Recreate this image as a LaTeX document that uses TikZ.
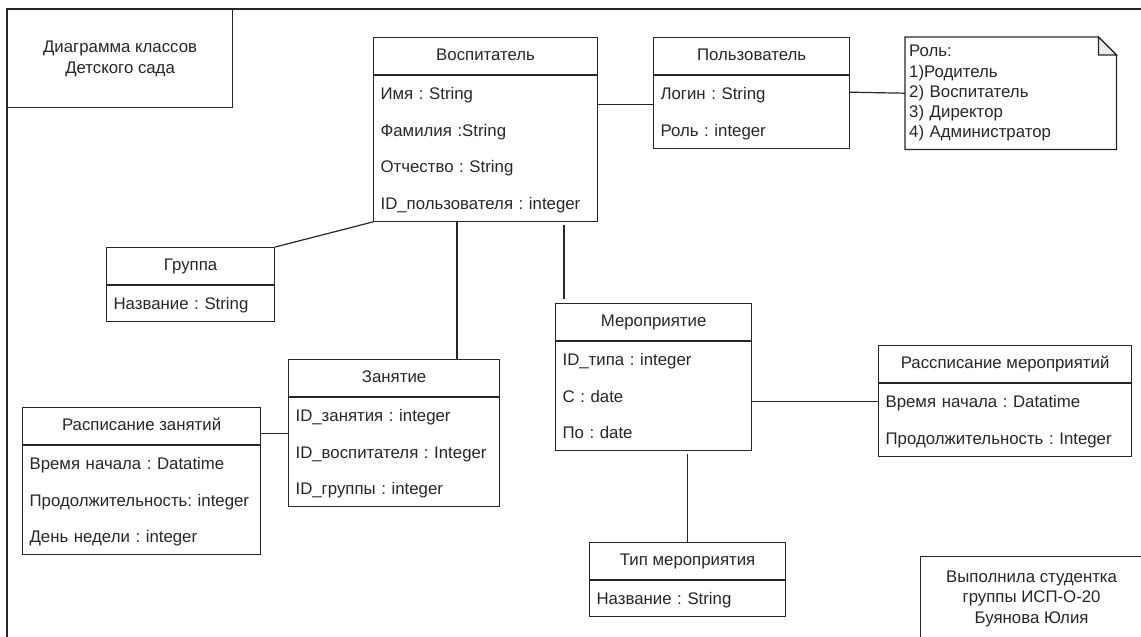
\documentclass[tikz,border=0pt]{standalone}
\usepackage{fontspec}
\setmainfont{Liberation Sans}
\frenchspacing
\hyphenpenalty=10000
\exhyphenpenalty=10000
\newcommand{\attrstrut}{\rule[-12pt]{0pt}{36.5pt}}

\begin{document}
\begin{tikzpicture}[x=1pt, y=-1pt,
    every node/.style={text=black!85},
    umlline/.style={draw=black!85, line width=1.2pt},
    classhead/.style={umlline, anchor=north west, inner sep=0pt, minimum height=36.5pt,
        text height=12pt, text depth=3.5pt, font=\fontsize{16.8pt}{20pt}\selectfont},
    classbody/.style={umlline, anchor=north west, inner xsep=7pt, inner ysep=0pt, align=left,
        font=\fontsize{16.8pt}{36.5pt}\selectfont},
    textbox/.style={umlline, anchor=north west, inner sep=0pt, align=center,
        font=\fontsize{16.8pt}{21pt}\selectfont}]
    \useasboundingbox (0,0) rectangle (1141,637);
    % frame of the sheet
    \draw[umlline] (1150,9) -- (7,9) -- (7,645);
    \node[textbox, minimum width=225pt, minimum height=98pt] (title) at (7,9) {Диаграмма классов\\Детского сада};
    \node[textbox, minimum width=222pt, minimum height=84pt, font=\fontsize{16.8pt}{20.5pt}\selectfont] (author) at (920,556) {Выполнила студентка\\группы ИСП-О-20\\Буянова Юлия};

    % classes
    \node[classhead, minimum width=224pt] (vosp) at (373,37) {Воспитатель};
    \node[classbody, text width=210pt] (vospattr) at (vosp.south west) {\attrstrut Имя : String\\\attrstrut Фамилия :String\\\attrstrut Отчество : String\\\attrstrut ID\_пользователя : integer};
    \node[classhead, minimum width=196pt] (polz) at (653,37) {Пользователь};
    \node[classbody, text width=182pt] (polzattr) at (polz.south west) {\attrstrut Логин : String\\\attrstrut Роль : integer};
    \node[classhead, minimum width=168pt] (gruppa) at (106,247) {Группа};
    \node[classbody, text width=154pt] (gruppaattr) at (gruppa.south west) {\attrstrut Название : String};
    \node[classhead, minimum width=211pt] (zan) at (288,359) {Занятие};
    \node[classbody, text width=197pt] (zanattr) at (zan.south west) {\attrstrut ID\_занятия : integer\\\attrstrut ID\_воспитателя : Integer\\\attrstrut ID\_группы : integer};
    \node[classhead, minimum width=238pt] (rzan) at (22,407) {Расписание занятий};
    \node[classbody, text width=224pt] (rzanattr) at (rzan.south west) {\attrstrut Время начала : Datatime\\\attrstrut Продолжительность: integer\\\attrstrut День недели : integer};
    \node[classhead, minimum width=196pt] (mer) at (555,303) {Мероприятие};
    \node[classbody, text width=182pt] (merattr) at (mer.south west) {\attrstrut ID\_типа : integer\\\attrstrut С : date\\\attrstrut По : date};
    \node[classhead, minimum width=253pt] (rmer) at (878,345) {Рассписание мероприятий};
    \node[classbody, text width=239pt] (rmerattr) at (rmer.south west) {\attrstrut Время начала : Datatime\\\attrstrut Продолжительность : Integer};
    \node[classhead, minimum width=196pt] (tip) at (589,542) {Тип мероприятия};
    \node[classbody, text width=182pt] (tipattr) at (tip.south west) {\attrstrut Название : String};

    % note with folded corner
    \node[anchor=north west, minimum width=211pt, minimum height=112pt, text width=203pt, inner xsep=4pt, inner ysep=0pt,
        align=left, font=\fontsize{16.8pt}{20.2pt}\selectfont] (note) at (905,37) {Роль:\\1)Родитель\\2) Воспитатель\\3) Директор\\4) Администратор};
    \draw[umlline] (note.north west) -- ([xshift=-18pt]note.north east) -- ([yshift=-18pt]note.north east)
        -- (note.south east) -- (note.south west) -- cycle;
    \filldraw[umlline, fill=black!8] ([xshift=-18pt]note.north east) -- ([xshift=-18pt,yshift=-18pt]note.north east)
        -- ([yshift=-18pt]note.north east) -- cycle;

    % associations
    \draw[umlline] ([yshift=-30pt]vospattr.north east) -- ([yshift=-30pt]polzattr.north west);
    \draw[umlline] ([yshift=-17.5pt]polzattr.north east) -- (note.west);
    \draw[umlline] (vospattr.south west) -- (gruppa.north east);
    \coordinate (vz) at ([xshift=84pt]vospattr.south west);
    \draw[umlline] (vz) -- (vz |- zan.north);
    \coordinate (vm) at ([xshift=191pt]vospattr.south west);
    \draw[umlline, shorten <=3pt, shorten >=4pt] (vm) -- (vm |- mer.north);
    \coordinate (rz) at ([yshift=-8pt]rzan.east);
    \draw[umlline] (rz) -- (rz -| zan.west);
    \coordinate (mr) at ([yshift=-60.5pt]mer.south east);
    \draw[umlline] (mr) -- (mr -| rmer.west);
    \draw[umlline, shorten >=3pt] (tip.north) -- (tip.north |- merattr.south);
\end{tikzpicture}
\end{document}
